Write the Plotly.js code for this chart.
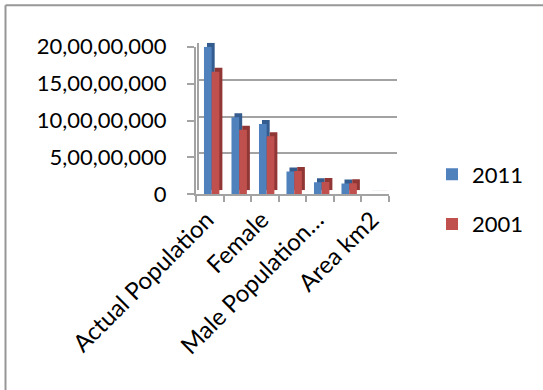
<!DOCTYPE html>
<html>
<head>
<meta charset="utf-8">
<script src="https://cdn.plot.ly/plotly-3.0.1.min.js"></script>
<style>
  html, body { margin: 0; padding: 0; background: #fff; }
  #chart { width: 543px; height: 390px; }
</style>
</head>
<body>
<div id="chart"></div>
<script>
// Census figures (Uttar Pradesh) for 2011 and 2001
const categories = [
  'Actual Population', 'Male', 'Female', 'Population (0-6)',
  'Male Population (0-6)', 'Female Population (0-6)', 'Area km2'
];
const values2011 = [199812341, 104480510, 95331831, 30791331, 16185581, 14605750, 240928];
const values2001 = [166197921, 87565369, 78632552, 31624628, 16509033, 15115595, 240928];
const seriesNames = ['2011', '2001'];

// Only every other category gets a visible label
const xTickLabels = ['Actual Population', '', 'Female', '', 'Male Population\u2026', '', 'Area km2'];
const yTickValues = [0, 50000000, 100000000, 150000000, 200000000];
const yTickLabels = ['0', '5,00,00,000', '10,00,00,000', '15,00,00,000', '20,00,00,000'];

const W = 543, H = 390;
const fx = px => px / W;
const fy = px => 1 - px / H;

const faceColors = ['#4F81BD', '#C0504D'];
const sideColors = ['#345C8E', '#903634'];
const lineGray = '#a3a3a3';
const valueRange = [0, 200000000];

// column placement inside each category slot (fractions of a slot)
const colWidth = 0.28;
const colOffsets = [-0.21, 0.07];

// front plane: 7 columns across 196..388.5 px
const frontLeft = 196, frontRight = 388.5;
const slot = (frontRight - frontLeft) / categories.length;
// rear plane: shifted right/up, and widened so the wall reaches further right
const backLeft = frontLeft + 3, backRight = 397, backLift = 4;
const backRange = [-0.5, -0.5 + (backRight - backLeft) / slot];

const series = [values2011, values2001];

// Depth blocks (rear plane, drawn first) then the front faces
const traces = [];
series.forEach((vals, i) => {
  traces.push({
    type: 'bar', x: categories, y: vals, name: seriesNames[i],
    xaxis: 'x', yaxis: 'y', showlegend: false,
    width: colWidth, offset: colOffsets[i],
    marker: { color: sideColors[i] }, hoverinfo: 'skip'
  });
});
series.forEach((vals, i) => {
  traces.push({
    type: 'bar', x: categories, y: vals, name: seriesNames[i],
    xaxis: 'x2', yaxis: 'y2', legendgroup: seriesNames[i],
    width: colWidth, offset: colOffsets[i],
    marker: { color: faceColors[i] }
  });
});

const layout = {
  width: W, height: H,
  margin: { l: 0, r: 0, t: 0, b: 0, pad: 0 },
  paper_bgcolor: '#fff', plot_bgcolor: 'rgba(0,0,0,0)',
  font: { family: 'Lato, "Open Sans", sans-serif', size: 22, color: '#000' },
  barmode: 'group', bargap: 0.45, bargroupgap: 0,
  hovermode: false,

  // back wall: gridlines, rear edge and column depth
  xaxis: {
    domain: [fx(backLeft), fx(backRight)], range: backRange, type: 'category', anchor: 'y',
    showgrid: false, zeroline: false, showline: false, showticklabels: false,
    ticks: '', automargin: false
  },
  yaxis: {
    domain: [fy(194.3 - backLift), fy(46.7 - backLift)], range: valueRange, anchor: 'x',
    tickmode: 'array', tickvals: yTickValues, showticklabels: false, ticks: '',
    showgrid: true, gridcolor: lineGray, gridwidth: 2,
    showline: true, linecolor: lineGray, linewidth: 2,
    zeroline: false, automargin: false
  },

  // front faces with the labelled axes
  xaxis2: {
    domain: [fx(frontLeft), fx(frontRight)], range: [-0.5, categories.length - 0.5],
    type: 'category', anchor: 'y2',
    tickmode: 'array', tickvals: categories, ticktext: xTickLabels,
    tickson: 'boundaries', ticks: 'outside', ticklen: 6, tickwidth: 2, tickcolor: lineGray,
    tickangle: -45, ticklabelstandoff: 0, ticklabelshift: -3, tickfont: { size: 24 },
    showline: true, linecolor: lineGray, linewidth: 2,
    showgrid: false, zeroline: false, automargin: false
  },
  yaxis2: {
    domain: [fy(194.3), fy(46.7)], range: valueRange, anchor: 'x2',
    tickmode: 'array', tickvals: yTickValues, ticktext: yTickLabels,
    ticks: 'outside', ticklen: 7, tickwidth: 2, tickcolor: lineGray,
    ticklabelstandoff: 16,
    showline: true, linecolor: lineGray, linewidth: 2,
    showgrid: false, zeroline: false, automargin: false
  },

  legend: {
    x: fx(432), xanchor: 'left', y: fy(199.5), yanchor: 'middle',
    traceorder: 'grouped', tracegroupgap: 18,
    bgcolor: 'rgba(0,0,0,0)', font: { size: 22 }
  },

  // chart frame
  shapes: [
    { type: 'line', xref: 'paper', yref: 'paper', x0: fx(5.5), x1: 1, y0: fy(5.3), y1: fy(5.3),
      line: { color: '#979797', width: 2 } },
    { type: 'line', xref: 'paper', yref: 'paper', x0: fx(5.5), x1: fx(5.5), y0: fy(5.3), y1: 0,
      line: { color: '#979797', width: 2 } }
  ]
};

Plotly.newPlot('chart', traces, layout, { displayModeBar: false, staticPlot: true });
</script>
</body>
</html>
